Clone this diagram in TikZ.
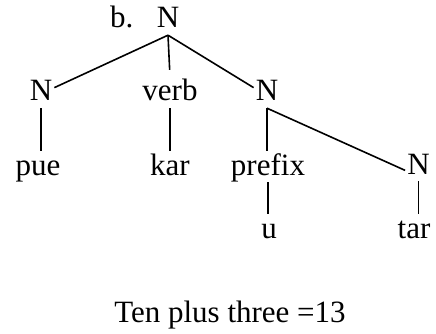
\documentclass[tikz,border=0pt]{standalone}
\usepackage{fontspec}
\setmainfont{Liberation Serif}
\usepackage{tikz}
\usetikzlibrary{positioning}

\begin{document}
\begin{tikzpicture}[
  x=1pt,y=-1pt,
  word/.style={anchor=base,inner sep=2pt,text height=22pt,text depth=5pt,
               font=\fontsize{31}{36}\selectfont},
  branch/.style={line width=1.6pt}
]
  \useasboundingbox (0,0) rectangle (436,334);

  \node[word] (root) at (168,28) {N};
  \node[word,left=19pt of root] (tag) {b.};

  \node[word] (left) at (41,101) {N};
  \node[word] (verb) at (170,101) {verb};
  \node[word] (right) at (267,101) {N};

  \node[word] (pue) at (38,175) {pue};
  \node[word] (kar) at (170,175) {kar};
  \node[word] (prefix) at (268,175) {prefix};
  \node[word] (far) at (418.5,174) {N};

  \node[word] (u) at (269,238) {u};
  \node[word] (tar) at (414,238) {tar};

  \node[word] (caption) at (230,322) {Ten plus three =13};

  \draw[branch] (root.south) -- (left.20);
  \draw[branch,shorten >=7pt] (root.south) -- (verb.north);
  \draw[branch] (root.south) -- (right.160);
  \draw[branch] (left.south) -- (left.south |- pue.north);
  \draw[branch] (verb.south) -- (verb.south |- kar.north);
  \draw[branch] (right.south) -- (right.south |- prefix.north);
  \draw[branch] (right.south) -- (far.200);
  \draw[branch] (prefix.south) -- (prefix.south |- u.north);
  \draw[branch] (far.south) -- (far.south |- tar.north);

\end{tikzpicture}
\end{document}
